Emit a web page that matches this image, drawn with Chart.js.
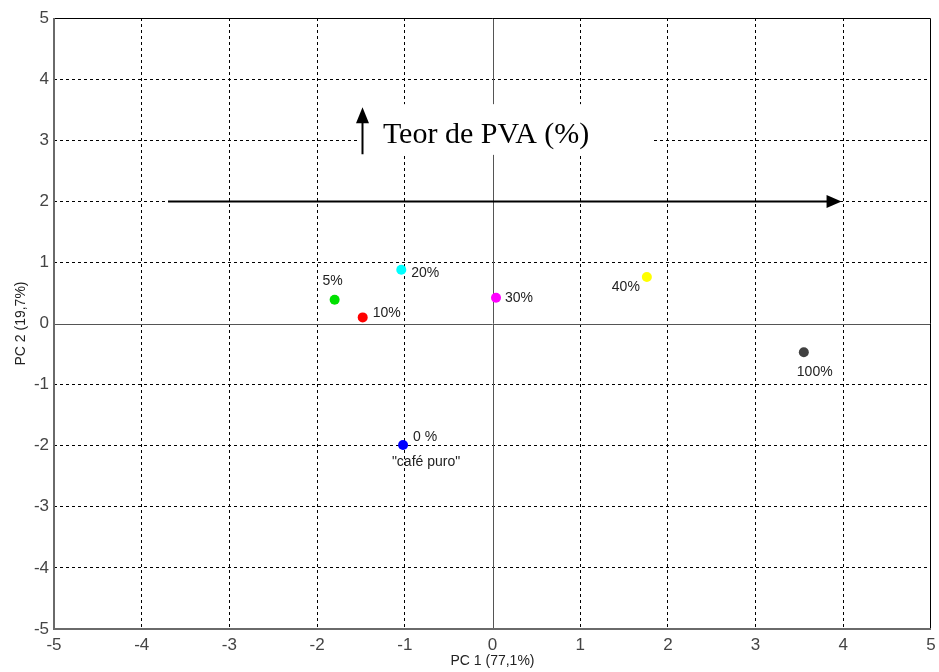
<!DOCTYPE html>
<html><head><meta charset="utf-8">
<script src="https://cdn.jsdelivr.net/npm/chart.js@4/dist/chart.umd.min.js"></script>
<style>html,body{margin:0;padding:0;background:#fff}canvas{display:block}</style>
</head><body><canvas id="c" width="939" height="672"></canvas>
<script>
// ---- data ----
const sampleLabels = ['0 %', '5%', '10%', '20%', '30%', '40%', '100%'];
const pc1 = [-1.02, -1.80, -1.48, -1.04, 0.04, 1.76, 3.55];
const pc2 = [-1.99, 0.39, 0.10, 0.88, 0.42, 0.76, -0.47];
const extraLabel = '"café puro"';
const axisMin = -5, axisMax = 5, axisStep = 1;
const xTitle = 'PC 1 (77,1%)';
const yTitle = 'PC 2 (19,7%)';
const annotationText = 'Teor de PVA (%)';
// annotation geometry in data units
const trendArrowX = [-3.70, 3.98];
const trendArrowY = [2.0];
const upArrowX = [-1.49];
const upArrowY = [2.77, 3.54];
const textBoxX = [-1.545, 1.82];
const textBoxY = [2.76, 3.59];
const textAnchor = [-1.25, 2.95];

// ---- styles ----
const pointColors = ['#0000ff', '#00e000', '#ff0000', '#00ffff', '#ff00ff', '#ffff00', '#404040'];
// pixel offsets of each label from its point: [dx, dy, align]
const labelOffsets = [[10, -8, 'left'], [-2, -19, 'center'], [10, -4, 'left'], [10, 3, 'left'], [9, 0, 'left'], [-7, 10, 'right'], [-7, 20, 'left']];
const extraOffset = [23, 17];

const annot = {
  id: 'annot',
  beforeDatasetsDraw(chart) {
    const {ctx, chartArea: a, scales: {x, y}} = chart;
    ctx.save();
    // zero lines
    ctx.strokeStyle = '#555';
    ctx.lineWidth = 1;
    ctx.beginPath();
    const x0 = Math.round(x.getPixelForValue(0)) + 0.5;
    const y0 = Math.round(y.getPixelForValue(0)) + 0.5;
    ctx.moveTo(x0, a.top); ctx.lineTo(x0, a.bottom);
    ctx.moveTo(a.left, y0); ctx.lineTo(a.right, y0);
    ctx.stroke();
    // frame: top/right black
    ctx.strokeStyle = '#000';
    ctx.lineWidth = 1;
    ctx.beginPath();
    ctx.moveTo(Math.round(a.left), Math.round(a.top) + 0.5);
    ctx.lineTo(Math.round(a.right) - 0.5, Math.round(a.top) + 0.5);
    ctx.lineTo(Math.round(a.right) - 0.5, Math.round(a.bottom));
    ctx.stroke();
    // left/bottom gray axes
    ctx.strokeStyle = '#6a6a6a';
    ctx.lineWidth = 2;
    ctx.beginPath();
    ctx.moveTo(Math.round(a.left), Math.round(a.top));
    ctx.lineTo(Math.round(a.left), Math.round(a.bottom));
    ctx.lineTo(Math.round(a.right), Math.round(a.bottom));
    ctx.stroke();

    // trend arrow
    const hx1 = x.getPixelForValue(trendArrowX[0]);
    const hx2 = x.getPixelForValue(trendArrowX[1]);
    const hy = Math.round(y.getPixelForValue(trendArrowY[0])) + 0.5;
    ctx.strokeStyle = '#000'; ctx.fillStyle = '#000'; ctx.lineWidth = 2;
    ctx.beginPath(); ctx.moveTo(hx1, hy); ctx.lineTo(hx2 - 12, hy); ctx.stroke();
    ctx.beginPath(); ctx.moveTo(hx2, hy); ctx.lineTo(hx2 - 15, hy - 6.5); ctx.lineTo(hx2 - 15, hy + 6.5); ctx.closePath(); ctx.fill();

    // white box
    const bx1 = x.getPixelForValue(textBoxX[0]), bx2 = x.getPixelForValue(textBoxX[1]);
    const by1 = y.getPixelForValue(textBoxY[1]), by2 = y.getPixelForValue(textBoxY[0]);
    ctx.fillStyle = '#fff';
    ctx.fillRect(bx1, by1, bx2 - bx1, by2 - by1);
    // up arrow
    const ux = Math.round(x.getPixelForValue(upArrowX[0])) + 0.5;
    const uy1 = y.getPixelForValue(upArrowY[0]), uy2 = y.getPixelForValue(upArrowY[1]);
    ctx.strokeStyle = '#000'; ctx.fillStyle = '#000'; ctx.lineWidth = 2;
    ctx.beginPath(); ctx.moveTo(ux, uy1); ctx.lineTo(ux, uy2 + 12); ctx.stroke();
    ctx.beginPath(); ctx.moveTo(ux, uy2); ctx.lineTo(ux - 6.5, uy2 + 16); ctx.lineTo(ux + 6.5, uy2 + 16); ctx.closePath(); ctx.fill();
    // text
    ctx.font = '30px "Liberation Serif", "Times New Roman", serif';
    ctx.textAlign = 'left'; ctx.textBaseline = 'alphabetic';
    ctx.fillText(annotationText, x.getPixelForValue(textAnchor[0]), y.getPixelForValue(textAnchor[1]));
    ctx.restore();
  },
  afterDatasetsDraw(chart) {
    const {ctx, scales: {x, y}} = chart;
    ctx.save();
    ctx.font = '14px "Liberation Sans", Arial, sans-serif';
    ctx.fillStyle = '#222';
    ctx.textBaseline = 'middle';
    sampleLabels.forEach((lab, i) => {
      const px = x.getPixelForValue(pc1[i]), py = y.getPixelForValue(pc2[i]);
      const o = labelOffsets[i];
      ctx.textAlign = o[2];
      ctx.fillText(lab, px + o[0], py + o[1]);
    });
    ctx.textAlign = 'center';
    ctx.fillText(extraLabel, x.getPixelForValue(pc1[0]) + extraOffset[0], y.getPixelForValue(pc2[0]) + extraOffset[1]);
    ctx.restore();
  }
};

const gridColor = (c) => {
  const v = c.tick ? c.tick.value : null;
  if (v === axisMin || v === axisMax || v === 0) return 'rgba(0,0,0,0)';
  return '#000';
};
const tickFont = {family: '"Liberation Sans", Arial, sans-serif', size: 17};
const titleFont = {family: '"Liberation Sans", Arial, sans-serif', size: 14};

new Chart(document.getElementById('c'), {
  type: 'scatter',
  data: {
    datasets: [{
      data: pc1.map((v, i) => ({x: v, y: pc2[i]})),
      pointBackgroundColor: pointColors,
      pointBorderColor: pointColors,
      pointRadius: 5,
      pointBorderWidth: 0
    }]
  },
  options: {
    responsive: false,
    animation: false,
    events: [],
    layout: {padding: {top: 18, right: 8, left: 0, bottom: 0}},
    plugins: {legend: {display: false}, tooltip: {enabled: false}},
    scales: {
      x: {
        type: 'linear', min: axisMin, max: axisMax,
        ticks: {stepSize: axisStep, font: tickFont, color: '#444', padding: 6, maxRotation: 0},
        grid: {color: gridColor, lineWidth: 1, drawTicks: false},
        border: {display: false, dash: [3, 3]},
        title: {display: true, text: xTitle, font: titleFont, color: '#222', padding: {top: 0, bottom: 2}},
        afterFit(s) { s.height = 43; s.paddingLeft = 0; s.paddingRight = 0; }
      },
      y: {
        type: 'linear', min: axisMin, max: axisMax,
        ticks: {stepSize: axisStep, font: tickFont, color: '#444', padding: 5},
        grid: {color: gridColor, lineWidth: 1, drawTicks: false},
        border: {display: false, dash: [3, 3]},
        title: {display: true, text: yTitle, font: titleFont, color: '#222', padding: {top: 13, bottom: 0}},
        afterFit(s) { s.width = 54; s.paddingTop = 0; s.paddingBottom = 0; }
      }
    }
  },
  plugins: [annot]
});
</script>
</body></html>
